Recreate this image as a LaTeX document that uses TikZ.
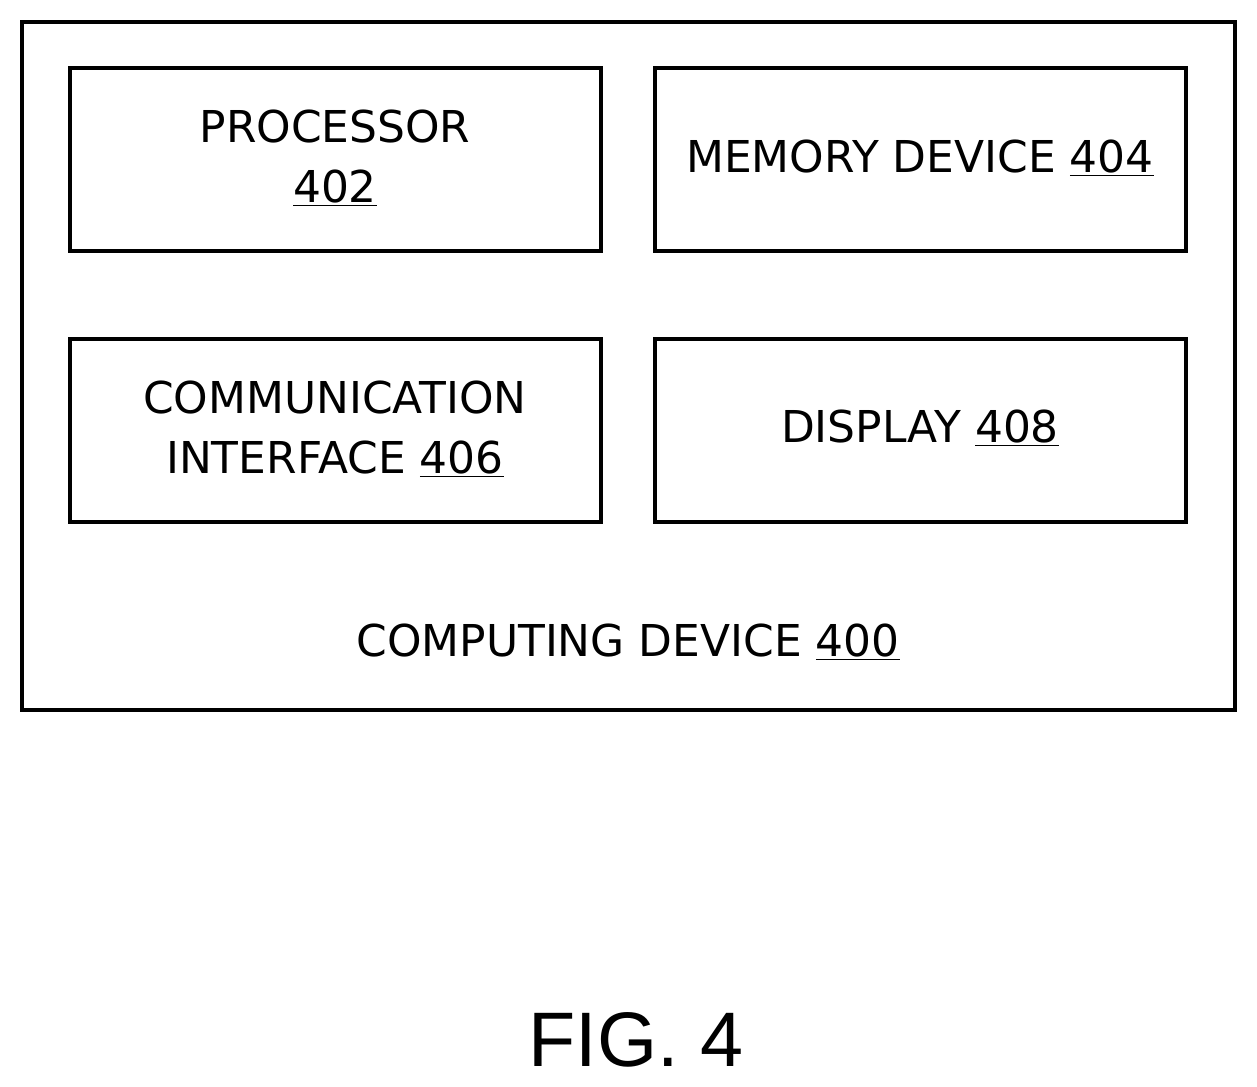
\documentclass[tikz,border=0pt]{standalone}
\usepackage{fontspec}
\setmainfont{DejaVu Sans}
\newfontfamily\figfont{Liberation Sans}
\begin{document}
\begin{tikzpicture}[x=0.02cm,y=-0.02cm,
  box/.style={draw,line width=1.9pt},
  lbl/.style={font=\fontsize{25}{34}\selectfont,align=center,inner sep=0}]
\useasboundingbox (0,0) rectangle (1257,1087);
\draw[box] (22,22) rectangle (1235,710);
\draw[box] (70,68) rectangle (601,251);
\draw[box] (655,68) rectangle (1186,251);
\draw[box] (70,339) rectangle (601,522);
\draw[box] (655,339) rectangle (1186,522);
\node[lbl] (p) at (335,158) {PROCESSOR\\\underline{402}};
\node[lbl] (m) at (920,158) {MEMORY DEVICE \underline{404}};
\node[lbl] (c) at (335,429) {COMMUNICATION\\INTERFACE \underline{406}};
\node[lbl] (d) at (920,428) {DISPLAY \underline{408}};
\node[lbl] (cd) at (628,642) {COMPUTING DEVICE \underline{400}};
\node[font=\figfont\fontsize{44}{50}\selectfont,inner sep=0] (f) at (636,1040) {FIG. 4};
\end{tikzpicture}
\end{document}
